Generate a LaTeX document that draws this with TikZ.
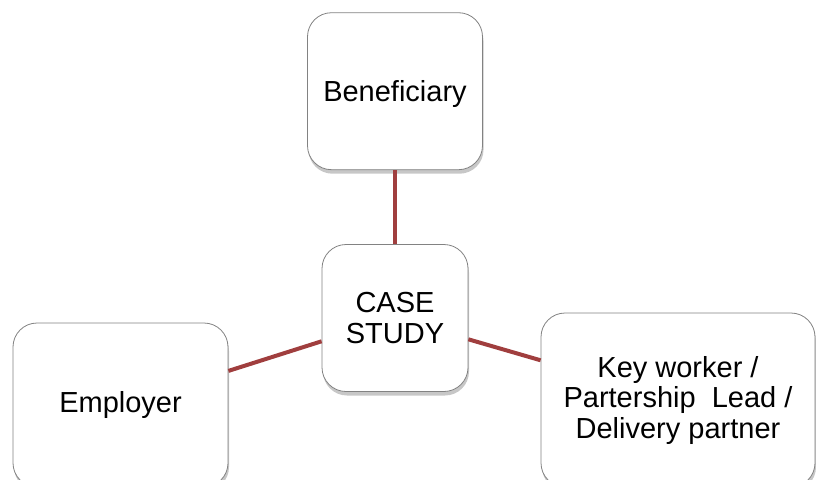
\documentclass[tikz,border=0pt]{standalone}
\usepackage{fontspec}
\setmainfont{Liberation Sans}
\usetikzlibrary{positioning, shadows}
\definecolor{linkred}{RGB}{160,62,62}
\definecolor{boxgray}{RGB}{130,130,130}

\begin{document}
\begin{tikzpicture}[
    x=1pt, y=-1pt,
    box/.style={rectangle, draw=boxgray, line width=0.8pt, fill=white, rounded corners=24pt,
        align=center, inner sep=2pt, font=\fontsize{29}{30.5}\selectfont,
        drop shadow={shadow xshift=1pt, shadow yshift=-4pt, fill=black, opacity=0.22}},
    link/.style={linkred, line width=4pt}
]
\useasboundingbox (0,0) rectangle (816,479);
% Boxes
\node[box, minimum width=146pt, minimum height=147pt] (case) at (395,318) {CASE\\STUDY};
\node[box, minimum width=175pt, minimum height=157pt, text depth=0pt, above=74pt of case] (benef) {Beneficiary};
\node[box, minimum width=215pt, minimum height=164pt] (employer) at (120.5,405) {Employer};
\node[box, minimum width=274pt, minimum height=174pt] (keyworker) at (678,400)
    {Key worker /\\Partership~ Lead /\\Delivery partner};

\draw[link] (case) -- (benef);
\draw[link] (case) -- (employer);
\draw[link] (case) -- (keyworker);
\end{tikzpicture}
\end{document}
